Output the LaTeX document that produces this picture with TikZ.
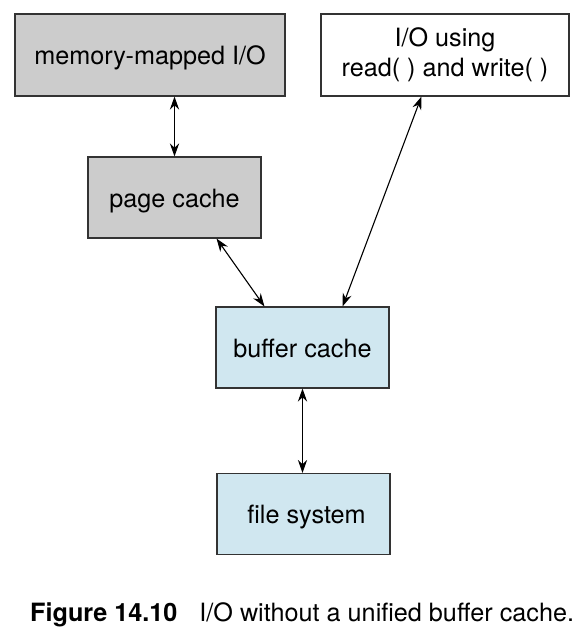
\documentclass[tikz,border=0pt]{standalone}
\usepackage{fontspec}
\setmainfont{TeX Gyre Heros}
\usetikzlibrary{arrows.meta}
\definecolor{boxgrey}{RGB}{204,204,204}
\definecolor{boxblue}{RGB}{208,231,240}

\begin{document}
\begin{tikzpicture}[x=0.5pt,y=-0.5pt,<->,>={Stealth[length=6.5pt,width=4.6pt]},
                    line width=0.55pt,font=\fontsize{12.6}{15}\selectfont]
  \tikzstyle{box}=[draw=black!80,rectangle,align=center,inner sep=0pt,
                   text height=11pt,text depth=1.5pt,
                   minimum width=86.5pt,minimum height=40.5pt]
  \tikzstyle{grey box}=[box,fill=boxgrey]
  \tikzstyle{blue box}=[box,fill=boxblue]

  \useasboundingbox (0,0) rectangle (586,632);

  \node[grey box,minimum width=135pt,minimum height=41pt] (mmio) at (150,55) {memory-mapped I/O};
  \node[box,fill=white,text height=,text depth=,minimum width=124pt,minimum height=41pt] (rw) at (445,55) {I/O using\\read( ) and write( )};
  \node[grey box]      (pc)  at (174.5,197.5) {page cache};
  \node[blue box]      (buf) at (302.5,347.5) {buffer cache};
  \node[blue box]      (fs)  at (303.5,514)   {\hspace{3pt}file system};

  \draw (mmio.south -| pc.north) -- (pc.north);
  \draw ([xshift=-22.5pt]pc.south east) -- ([xshift=24.5pt]buf.north west);
  \draw ([xshift=50.5pt]rw.south west) -- ([xshift=-23.5pt]buf.north east);
  \draw (buf.south) -- (buf.south |- fs.north);

  \node[anchor=base west] (cap) at (23,621)
    {\textbf{Figure 14.10}\hspace{11pt}I/O without a unified buffer cache.};
\end{tikzpicture}
\end{document}
